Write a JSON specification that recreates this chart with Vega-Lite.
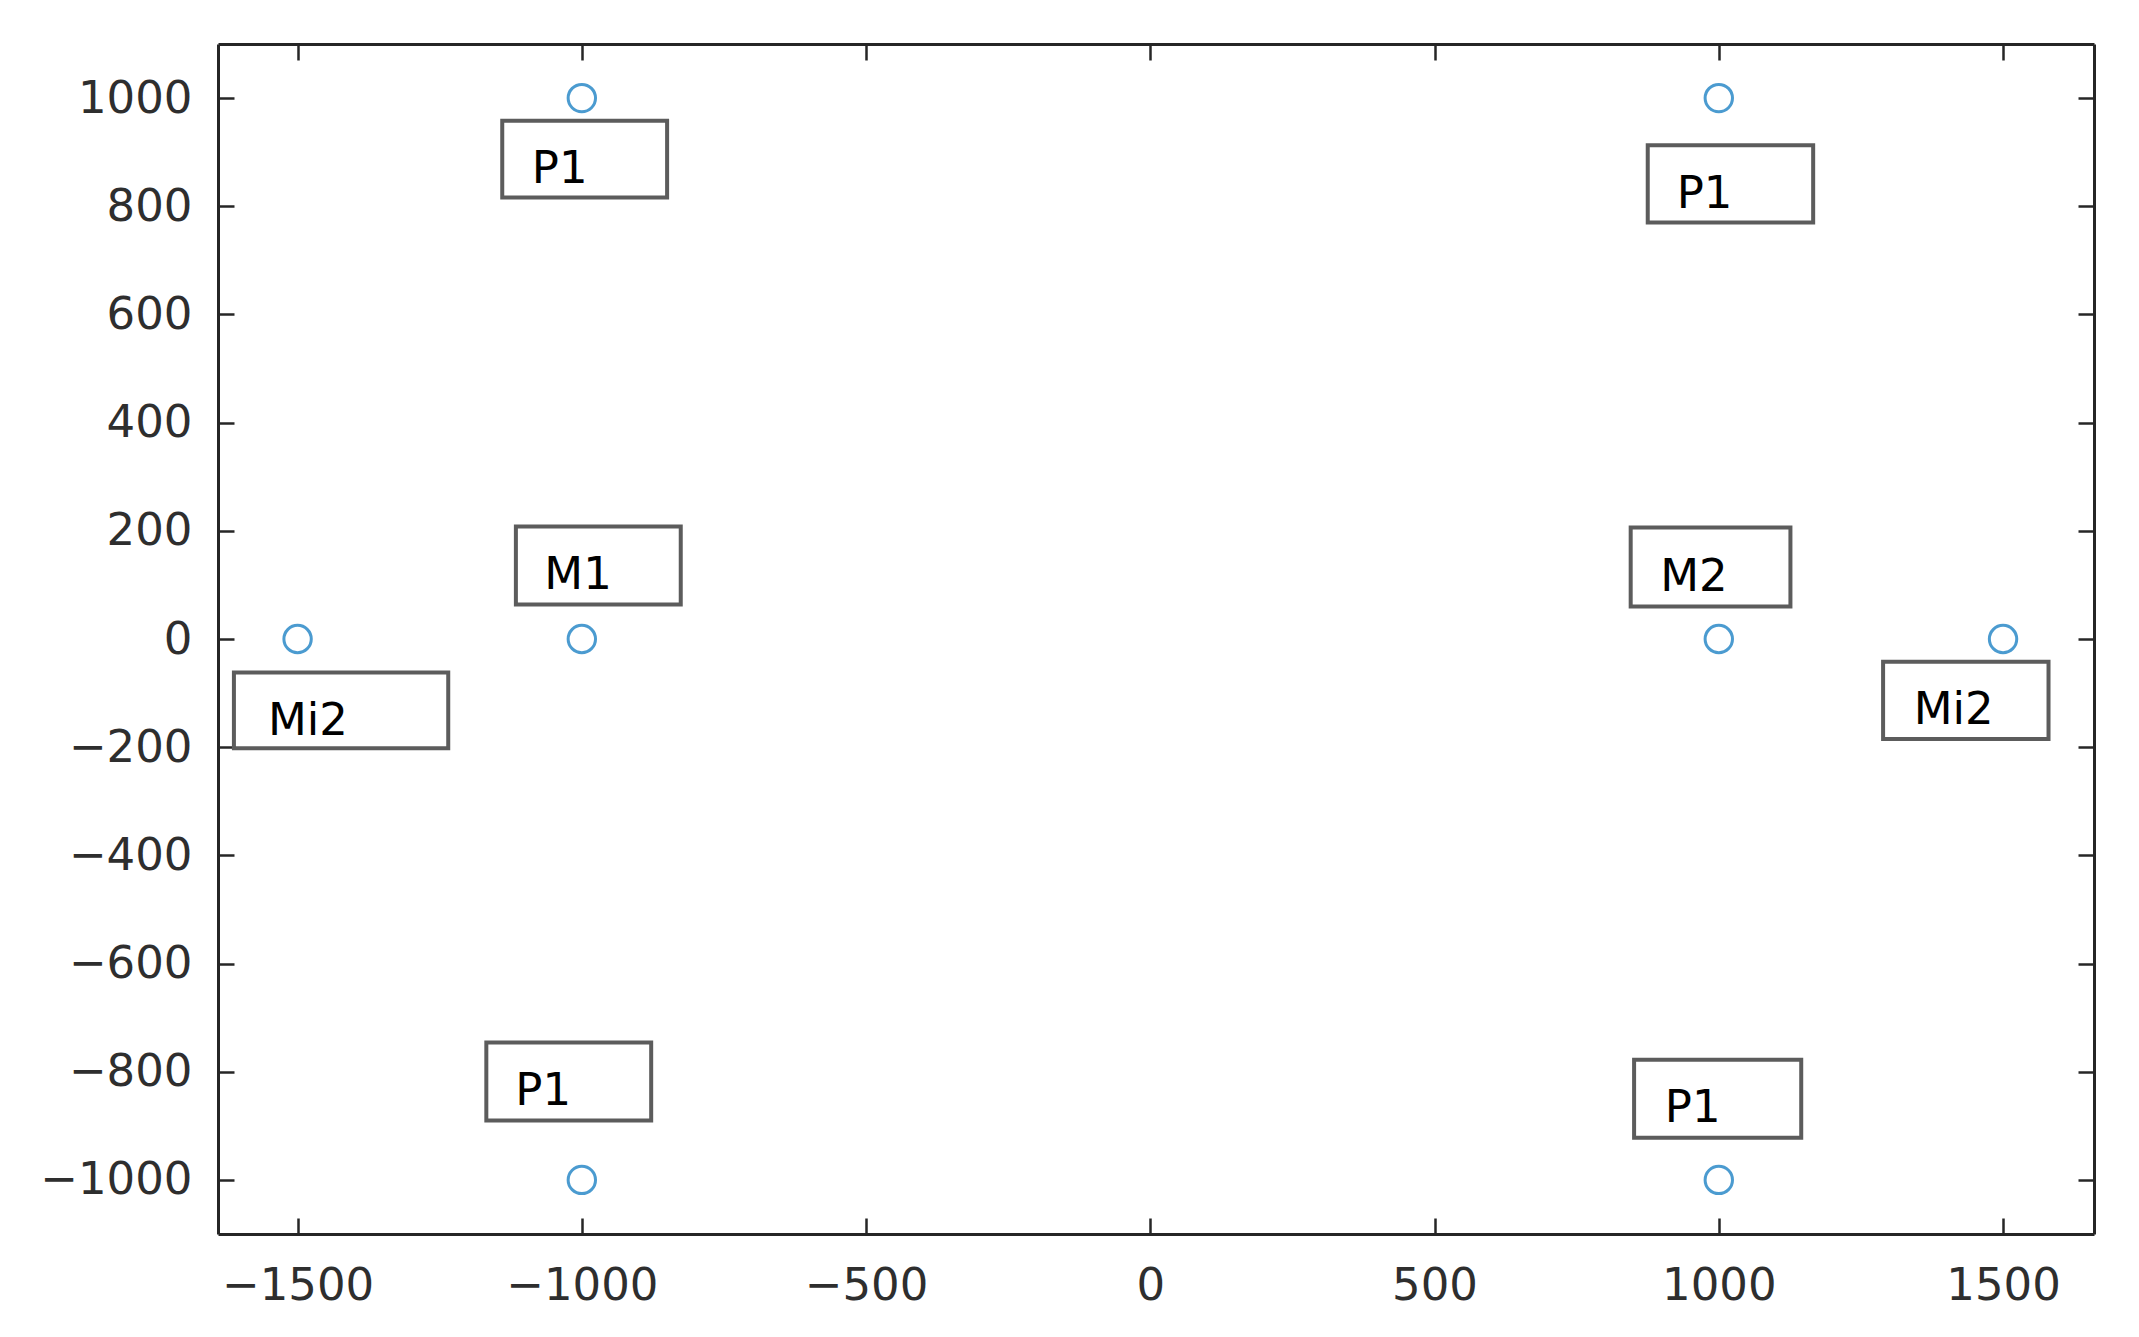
{
  "$schema": "https://vega.github.io/schema/vega-lite/v6.json",
  "width": 1876,
  "height": 1190,
  "autosize": "none",
  "padding": {"left": 218, "top": 44, "right": 45, "bottom": 103},
  "background": "white",
  "config": {
    "view": {"stroke": null},
    "axis": {
      "grid": false,
      "title": null,
      "domainColor": "#262626",
      "domainWidth": 3,
      "tickColor": "#262626",
      "tickWidth": 2.5,
      "tickSize": -16,
      "labelFont": "DejaVu Sans",
      "labelFontSize": 45,
      "labelColor": "#2e2e2e",
      "format": "d"
    }
  },
  "datasets": {
    "pts": [
      {"x": -1000, "y": 1000},
      {"x": 1000, "y": 1000},
      {"x": -1500, "y": 0},
      {"x": -1000, "y": 0},
      {"x": 1000, "y": 0},
      {"x": 1500, "y": 0},
      {"x": -1000, "y": -1000},
      {"x": 1000, "y": -1000}
    ],
    "labels": [
      {"label": "P1", "x1": -1140, "x2": -850, "y1": 816, "y2": 958, "tx": -1088, "ty": 843},
      {"label": "M1", "x1": -1116, "x2": -826, "y1": 64, "y2": 208, "tx": -1066, "ty": 92},
      {"label": "Mi2", "x1": -1612, "x2": -1235, "y1": -202, "y2": -62, "tx": -1552, "ty": -177},
      {"label": "P1", "x1": -1168, "x2": -878, "y1": -890, "y2": -746, "tx": -1117, "ty": -862},
      {"label": "P1", "x1": 875, "x2": 1166, "y1": 770, "y2": 913, "tx": 926, "ty": 797},
      {"label": "M2", "x1": 845, "x2": 1126, "y1": 60, "y2": 206, "tx": 897, "ty": 88},
      {"label": "Mi2", "x1": 1289, "x2": 1580, "y1": -185, "y2": -42, "tx": 1343, "ty": -158},
      {"label": "P1", "x1": 851, "x2": 1145, "y1": -922, "y2": -778, "tx": 905, "ty": -893}
    ]
  },
  "layer": [
    {
      "data": {"name": "labels"},
      "mark": {"type": "rect", "fill": "white", "stroke": "#5c5c5c", "strokeWidth": 4},
      "encoding": {
        "x": {"field": "x1", "type": "quantitative",
              "scale": {"domain": [-1640, 1660], "nice": false, "zero": false},
              "axis": {"orient": "top", "labels": false, "values": [-1500, -1000, -500, 0, 500, 1000, 1500]}},
        "x2": {"field": "x2"},
        "y": {"field": "y1", "type": "quantitative",
              "scale": {"domain": [-1100, 1100], "nice": false, "zero": false},
              "axis": {"orient": "right", "labels": false, "values": [-1000, -800, -600, -400, -200, 0, 200, 400, 600, 800, 1000]}},
        "y2": {"field": "y2"}
      }
    },
    {
      "data": {"name": "pts"},
      "mark": {"type": "point", "shape": "circle", "filled": false, "color": "#0072BD", "size": 750, "strokeWidth": 3},
      "encoding": {
        "x": {"field": "x", "type": "quantitative",
              "scale": {"domain": [-1640, 1660], "nice": false, "zero": false},
              "axis": {"orient": "bottom", "labelPadding": 45, "values": [-1500, -1000, -500, 0, 500, 1000, 1500]}},
        "y": {"field": "y", "type": "quantitative",
              "scale": {"domain": [-1100, 1100], "nice": false, "zero": false},
              "axis": {"orient": "left", "labelPadding": 42, "values": [-1000, -800, -600, -400, -200, 0, 200, 400, 600, 800, 1000]}}
      }
    },
    {
      "data": {"name": "labels"},
      "mark": {"type": "text", "align": "left", "baseline": "alphabetic", "font": "DejaVu Sans", "fontSize": 45, "color": "#000000"},
      "encoding": {
        "x": {"field": "tx", "type": "quantitative", "scale": {"domain": [-1640, 1660], "nice": false, "zero": false}, "axis": null},
        "y": {"field": "ty", "type": "quantitative", "scale": {"domain": [-1100, 1100], "nice": false, "zero": false}, "axis": null},
        "text": {"field": "label"}
      }
    }
  ],
  "resolve": {"axis": {"x": "independent", "y": "independent"}}
}
